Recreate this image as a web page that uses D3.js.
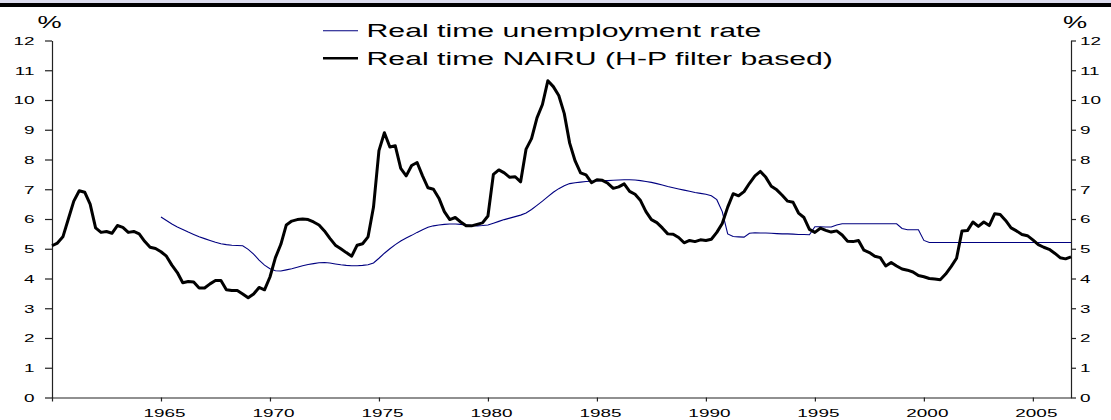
<!DOCTYPE html>
<html>
<head>
<meta charset="utf-8">
<script src="https://cdn.jsdelivr.net/npm/d3@7"></script>
<style>
  html, body { margin: 0; padding: 0; background: #fff; }
  svg { display: block; }
  text { font-family: "Liberation Sans", Arial, sans-serif; fill: #000; }
</style>
</head>
<body>
<svg id="chart" width="1111" height="420"></svg>
<script>
// ---------------- DATA (quarterly) ----------------
const nairuStart = 1960;           // first quarter of the black series
const nairu = [
  5.10, 5.19, 5.40, 6.00, 6.60, 6.95, 6.90, 6.50, 5.70, 5.55,
  5.58, 5.52, 5.78, 5.72, 5.55, 5.58, 5.50, 5.25, 5.05, 5.01,
  4.90, 4.75, 4.45, 4.20, 3.86, 3.90, 3.88, 3.68, 3.68, 3.82,
  3.93, 3.93, 3.62, 3.60, 3.60, 3.48, 3.35, 3.48, 3.70, 3.62,
  4.05, 4.70, 5.15, 5.80, 5.93, 5.98, 6.00, 5.98, 5.90, 5.80,
  5.60, 5.35, 5.12, 5.00, 4.87, 4.75, 5.12, 5.17, 5.40, 6.40,
  8.30, 8.90, 8.42, 8.46, 7.70, 7.45, 7.80, 7.90, 7.45, 7.05,
  7.00, 6.70, 6.25, 5.98, 6.05, 5.90, 5.77, 5.77, 5.82, 5.87,
  6.10, 7.50, 7.65, 7.55, 7.40, 7.42, 7.25, 8.35, 8.70, 9.40,
  9.85, 10.65, 10.45, 10.15, 9.55, 8.55, 7.95, 7.55, 7.48, 7.22,
  7.32, 7.30, 7.20, 7.03, 7.08, 7.18, 6.93, 6.83, 6.62, 6.25,
  5.98, 5.88, 5.70, 5.50, 5.49, 5.38, 5.20, 5.28, 5.24, 5.30,
  5.28, 5.32, 5.55, 5.85, 6.40, 6.85, 6.78, 6.92, 7.20, 7.45,
  7.60, 7.40, 7.10, 6.98, 6.80, 6.60, 6.56, 6.20, 6.05, 5.65,
  5.55, 5.69, 5.62, 5.56, 5.60, 5.46, 5.25, 5.24, 5.28, 4.95,
  4.87, 4.75, 4.70, 4.42, 4.54, 4.42, 4.32, 4.28, 4.22, 4.10,
  4.06, 4.00, 3.98, 3.96, 4.15, 4.40, 4.68, 5.60, 5.61, 5.90,
  5.75, 5.90, 5.78, 6.18, 6.15, 5.95, 5.70, 5.60, 5.48, 5.44,
  5.30, 5.14, 5.05, 4.98, 4.85, 4.70, 4.66, 4.73
];

const unempStart = 1965;           // first quarter of the blue series
const unemployment = [
  6.07, 5.95, 5.83, 5.73, 5.65, 5.56, 5.48, 5.40, 5.34, 5.28,
  5.22, 5.17, 5.14, 5.12, 5.11, 5.10, 4.98, 4.82, 4.62, 4.45,
  4.33, 4.26, 4.25, 4.29, 4.33, 4.38, 4.43, 4.47, 4.50, 4.53,
  4.54, 4.52, 4.49, 4.46, 4.44, 4.43, 4.43, 4.44, 4.46, 4.52,
  4.68, 4.85, 5.00, 5.14, 5.26, 5.36, 5.45, 5.55, 5.64, 5.72,
  5.77, 5.80, 5.82, 5.83, 5.83, 5.82, 5.80, 5.78, 5.77, 5.78,
  5.80, 5.86, 5.92, 5.98, 6.03, 6.08, 6.13, 6.20, 6.32, 6.46,
  6.60, 6.75, 6.90, 7.02, 7.12, 7.19, 7.22, 7.24, 7.26, 7.27,
  7.28, 7.29, 7.29, 7.30, 7.31, 7.32, 7.32, 7.31, 7.29, 7.26,
  7.23, 7.19, 7.14, 7.09, 7.05, 7.01, 6.97, 6.93, 6.89, 6.86,
  6.83, 6.78, 6.65, 6.25, 5.50, 5.41, 5.40, 5.39, 5.52, 5.54,
  5.53, 5.53, 5.52, 5.51, 5.50, 5.50, 5.49, 5.48, 5.48, 5.47,
  5.74, 5.74, 5.73, 5.73, 5.80, 5.84, 5.84, 5.84, 5.84, 5.84,
  5.84, 5.84, 5.84, 5.84, 5.84, 5.84, 5.68, 5.64, 5.64, 5.64,
  5.28, 5.21, 5.21, 5.21, 5.21, 5.21, 5.21, 5.21, 5.21, 5.21,
  5.21, 5.21, 5.21, 5.21, 5.21, 5.21, 5.21, 5.21, 5.21, 5.21,
  5.21, 5.21, 5.21, 5.21, 5.21, 5.21, 5.21, 5.21
];

const yTicks = [0, 1, 2, 3, 4, 5, 6, 7, 8, 9, 10, 11, 12];
const xTicks = [1960, 1965, 1970, 1975, 1980, 1985, 1990, 1995, 2000, 2005];
const xTickLabels = ["", "1965", "1970", "1975", "1980", "1985", "1990", "1995", "2000", "2005"];
const legendLabels = ["Real time unemployment rate", "Real time NAIRU (H-P filter based)"];
const unitLabel = "%";

// ---------------- LAYOUT ----------------
const svg = d3.select("#chart");
const plotLeft = 52, plotRight = 1071, plotTop = 40.5, plotBottom = 397.5;
const SX = 1.72;   // horizontal stretch of the original lettering

const x = d3.scaleLinear().domain([1960, 2006.75]).range([plotLeft, plotRight]);
const y = d3.scaleLinear().domain([0, 12]).range([plotBottom, plotTop]);

// top banner
svg.append("rect").attr("x", 0).attr("y", 0).attr("width", 1111).attr("height", 3).attr("fill", "#dcdcee");
svg.append("rect").attr("x", 0).attr("y", 3).attr("width", 1111).attr("height", 4).attr("fill", "#000");

// axes
const gL = svg.append("g").attr("transform", `translate(${plotLeft},0)`)
  .call(d3.axisLeft(y).tickValues(yTicks).tickFormat(d3.format("d")).tickSize(7).tickSizeOuter(0));
const gR = svg.append("g").attr("transform", `translate(${plotRight},0)`)
  .call(d3.axisRight(y).tickValues(yTicks).tickFormat(d3.format("d")).tickSize(5).tickSizeOuter(0));
const gB = svg.append("g").attr("transform", `translate(0,${plotBottom})`)
  .call(d3.axisBottom(x).tickValues(xTicks).tickFormat((d, i) => xTickLabels[i]).tickSize(4).tickSizeOuter(0));

[gL, gR, gB].forEach(g => {
  g.select(".domain").attr("stroke", "#222").attr("stroke-width", 1.2);
  g.selectAll(".tick line").attr("stroke", "#222").attr("stroke-width", 1.2);
  g.selectAll("text").attr("font-size", 11).attr("font-family", '"Liberation Sans", Arial, sans-serif').attr("fill", "#000");
});
gL.selectAll(".tick text").attr("x", -17.5 / SX).attr("dy", "0.36em").attr("transform", `scale(${SX},1)`);
gR.selectAll(".tick text").attr("x", 9 / SX).attr("dy", "0.36em").attr("transform", `scale(${SX},1)`);
gB.selectAll(".tick text").attr("x", 3 / SX).attr("y", 20).attr("dy", 0).attr("transform", `scale(${SX},1)`);

// unit labels
[49.7, 1075].forEach(cx => {
  svg.append("text").attr("transform", `translate(${cx},28.3) scale(1.7,1)`)
    .attr("text-anchor", "middle").attr("font-size", 16).text(unitLabel);
});

// lines
const lineGen = d3.line().x(d => x(d[0])).y(d => y(d[1]));
const blueData = unemployment.map((v, i) => [unempStart + i / 4, v]);
const blackData = nairu.map((v, i) => [nairuStart + i / 4, v]);

svg.append("path").datum(blueData).attr("d", lineGen)
  .attr("fill", "none").attr("stroke", "#000080").attr("stroke-width", 1.1);
svg.append("path").datum(blackData).attr("d", lineGen)
  .attr("fill", "none").attr("stroke", "#000").attr("stroke-width", 3).attr("stroke-linejoin", "round");

// legend
const legend = [
  { label: legendLabels[0], color: "#000080", w: 1.1, yy: 30.7 },
  { label: legendLabels[1], color: "#000", w: 2.6, yy: 58.3 }
];
legend.forEach(l => {
  svg.append("line").attr("x1", 323).attr("x2", 358).attr("y1", l.yy).attr("y2", l.yy)
    .attr("stroke", l.color).attr("stroke-width", l.w);
  svg.append("text").attr("transform", `translate(366.5,${l.yy + 6.3}) scale(1.68,1)`)
    .attr("font-size", 18).text(l.label);
});
</script>
</body>
</html>
